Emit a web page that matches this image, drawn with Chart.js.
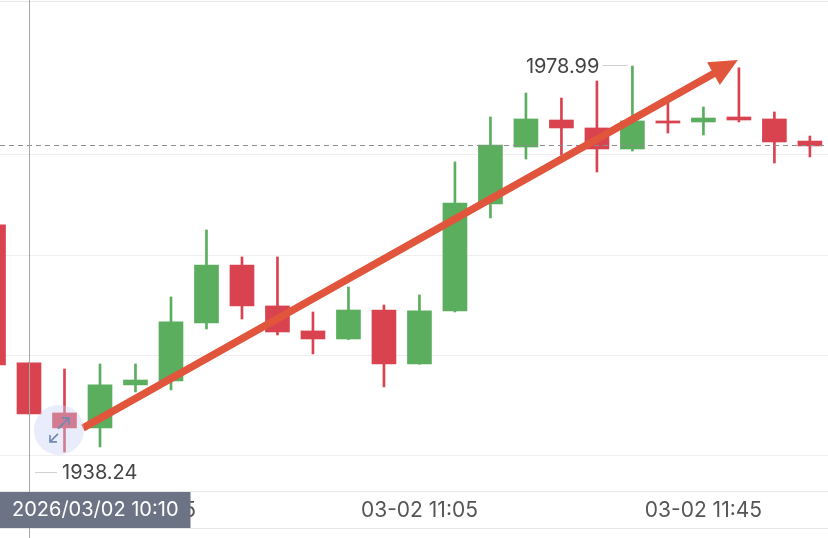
<!DOCTYPE html>
<html>
<head>
<meta charset="utf-8">
<script src="https://cdn.jsdelivr.net/npm/chart.js@4.4.0/dist/chart.umd.min.js"></script>
<style>
  html, body { margin: 0; padding: 0; background: #fff; }
  #wrap { width: 828px; height: 538px; position: relative; }
</style>
</head>
<body>
<div id="wrap"><canvas id="kline"></canvas></div>
<script>
// 5분봉 데이터 (03-02)
const times  = ['10:05','10:10','10:15','10:20','10:25','10:30','10:35','10:40','10:45','10:50','10:55','11:00',
                '11:05','11:10','11:15','11:20','11:25','11:30','11:35','11:40','11:45','11:50','11:55','12:00'];
const opens  = [1962.21,1947.64,1942.36,1940.78,1945.32,1945.74,1951.86,1957.98,1953.66,1951.02,1950.17,1953.23,
                1947.53,1953.13,1964.42,1970.44,1973.29,1972.45,1970.23,1973.19,1973.08,1973.61,1973.40,1971.07];
const highs  = [1963.30,1947.64,1947.00,1947.53,1947.53,1954.61,1961.68,1958.83,1958.83,1953.02,1955.66,1953.76,
                1954.82,1968.86,1973.61,1976.14,1975.61,1977.41,1978.99,1975.19,1974.66,1978.80,1974.14,1971.60];
const lows   = [1946.10,1942.25,1938.24,1938.77,1944.58,1944.79,1951.23,1952.28,1950.59,1948.59,1950.10,1945.11,
                1947.50,1953.02,1962.95,1969.17,1969.60,1967.80,1970.02,1971.92,1971.71,1973.08,1968.75,1969.39];
const closes = [1947.43,1942.25,1940.78,1945.32,1945.84,1951.97,1957.98,1953.66,1950.91,1950.17,1953.23,1947.53,
                1953.13,1964.53,1970.65,1973.40,1972.45,1970.23,1973.19,1972.97,1973.50,1973.29,1970.97,1970.55];
const tickIndexes = [4, 12, 20];
const gridPrices = [1969.6, 1959.0, 1948.45, 1937.9];
const lastPrice = 1970.6;
const datePrefix = '03-02';
const fullDate = '2026/03/02';
const crossIndex = 1;
const lowIndex = 2;
const highIndex = 18;
// 추세선 (index, price)
const trendStart = {x: 2.52, y: 1940.78};
const trendEnd = {x: 20.97, y: 1979.63};

const UP = '#5aae5e';
const DOWN = '#d9434f';
const FONT = '"Inter", "Noto Sans", sans-serif';

function candleColor(ctx) {
    const i = ctx.dataIndex;
    return closes[i] >= opens[i] ? UP : DOWN;
}

const wickData = times.map((t, i) => ({x: i, y: [lows[i], highs[i]]}));
const bodyData = times.map((t, i) => ({x: i, y: [opens[i], closes[i]]}));

const overlay = {
    id: 'overlay',
    afterDatasetsDraw(chart) {
        const c = chart.ctx;
        const xs = chart.scales.x;
        const ys = chart.scales.y;
        const area = chart.chartArea;
        c.save();

        // 축 경계선
        c.strokeStyle = '#e8e8e8';
        c.lineWidth = 1;
        c.beginPath();
        c.moveTo(0, area.bottom + 0.5); c.lineTo(chart.width, area.bottom + 0.5);
        c.moveTo(0, area.bottom + 37.5); c.lineTo(chart.width, area.bottom + 37.5);
        c.moveTo(0, 1.5); c.lineTo(chart.width, 1.5);
        c.stroke();

        // 현재가 점선
        const py = Math.round(ys.getPixelForValue(lastPrice)) + 0.5;
        c.strokeStyle = '#8c8c8c';
        c.setLineDash([5, 4]);
        c.beginPath();
        c.moveTo(0, py); c.lineTo(chart.width, py);
        c.stroke();
        c.setLineDash([]);

        // 추세 화살표
        const sx = xs.getPixelForValue(trendStart.x), sy = ys.getPixelForValue(trendStart.y);
        const ex = xs.getPixelForValue(trendEnd.x), ey = ys.getPixelForValue(trendEnd.y);
        const len = Math.hypot(ex - sx, ey - sy);
        const ux = (ex - sx) / len, uy = (ey - sy) / len;
        const headLen = 28, headHalf = 13;
        const bx = ex - ux * headLen, by = ey - uy * headLen;
        c.strokeStyle = '#e0553b';
        c.fillStyle = '#e0553b';
        c.lineWidth = 7.5;
        c.beginPath();
        c.moveTo(sx, sy); c.lineTo(bx + ux * 2, by + uy * 2);
        c.stroke();
        c.beginPath();
        c.moveTo(ex, ey);
        c.lineTo(bx - uy * headHalf, by + ux * headHalf);
        c.lineTo(bx + uy * headHalf, by - ux * headHalf);
        c.closePath();
        c.fill();

        // 편집 핸들
        const hx = sx - 24, hy = sy + 2;
        c.fillStyle = 'rgba(200, 210, 245, 0.4)';
        c.beginPath();
        c.arc(hx, hy, 25, 0, Math.PI * 2);
        c.fill();
        c.strokeStyle = '#7088b8';
        c.lineWidth = 1.6;
        c.beginPath();
        c.moveTo(hx - 1, hy - 1); c.lineTo(hx + 10, hy - 12);
        c.moveTo(hx + 3, hy - 12); c.lineTo(hx + 10, hy - 12); c.lineTo(hx + 10, hy - 5);
        c.moveTo(hx - 1, hy + 4); c.lineTo(hx - 9, hy + 12);
        c.moveTo(hx - 9, hy + 5); c.lineTo(hx - 9, hy + 12); c.lineTo(hx - 2, hy + 12);
        c.stroke();

        // 크로스헤어
        const cx = Math.round(xs.getPixelForValue(crossIndex)) + 0.5;
        c.strokeStyle = '#a8a8a8';
        c.lineWidth = 1;
        c.beginPath();
        c.moveTo(cx, 0); c.lineTo(cx, chart.height);
        c.stroke();

        // 최저가 / 최고가 표시
        c.font = '20px ' + FONT;
        c.fillStyle = '#444';
        c.textBaseline = 'middle';
        const lowY = ys.getPixelForValue(lows[lowIndex]) + 20;
        c.strokeStyle = '#cfcfcf';
        c.beginPath();
        c.moveTo(35, lowY + 0.5); c.lineTo(57, lowY + 0.5);
        c.stroke();
        c.textAlign = 'left';
        c.fillText(lows[lowIndex].toFixed(2), 62, lowY + 1);

        const hx2 = xs.getPixelForValue(highIndex);
        const highY = ys.getPixelForValue(highs[highIndex]);
        c.beginPath();
        c.moveTo(hx2 - 30, highY - 0.5); c.lineTo(hx2 - 5, highY - 0.5);
        c.stroke();
        c.textAlign = 'right';
        c.fillText(highs[highIndex].toFixed(2), hx2 - 33, highY + 1);

        // 크로스헤어 시간 라벨
        c.font = '20px ' + FONT;
        const label = fullDate + ' ' + times[crossIndex];
        const w = c.measureText(label).width + 24;
        const boxX = Math.max(0, cx - w / 2);
        c.fillStyle = '#6b7384';
        c.fillRect(boxX, area.bottom + 1, w, 36);
        c.fillStyle = '#fff';
        c.textAlign = 'center';
        c.fillText(label, boxX + w / 2, area.bottom + 19);
        c.restore();
    }
};

new Chart(document.getElementById('kline'), {
    type: 'bar',
    data: {
        datasets: [
            {data: wickData, backgroundColor: candleColor, barThickness: 2, grouped: false, order: 2},
            {data: bodyData, backgroundColor: candleColor, barThickness: 24, grouped: false, order: 1}
        ]
    },
    options: {
        responsive: true,
        maintainAspectRatio: false,
        animation: false,
        layout: {padding: 0},
        plugins: {legend: {display: false}, tooltip: {enabled: false}},
        scales: {
            x: {
                type: 'linear',
                position: 'bottom',
                min: 0.183,
                max: 23.51,
                offset: false,
                grid: {display: false, drawTicks: false},
                border: {display: false},
                afterBuildTicks: s => { s.ticks = tickIndexes.map(v => ({value: v})); },
                afterFit: s => { s.height = 47; },
                ticks: {
                    padding: 7,
                    maxRotation: 0,
                    autoSkip: false,
                    color: '#555',
                    font: {family: FONT, size: 21},
                    callback: v => datePrefix + ' ' + times[v]
                }
            },
            y: {
                type: 'linear',
                min: 1934.12,
                max: 1985.96,
                grid: {color: '#efefef', drawTicks: false},
                border: {display: false},
                afterBuildTicks: s => { s.ticks = gridPrices.map(v => ({value: v})); },
                afterFit: s => { s.width = 0; },
                ticks: {display: false}
            }
        }
    },
    plugins: [overlay]
});
</script>
</body>
</html>
